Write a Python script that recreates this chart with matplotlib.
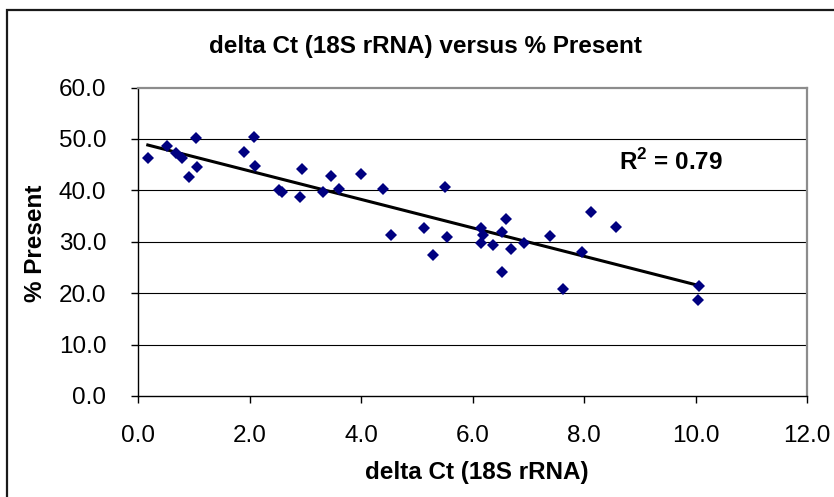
import numpy as np
import matplotlib
matplotlib.use("Agg")
import matplotlib.pyplot as plt
from matplotlib.patches import Rectangle

plt.rcParams["font.family"] = ["Liberation Sans", "DejaVu Sans"]
plt.rcParams["mathtext.fontset"] = "custom"
plt.rcParams["mathtext.rm"] = "Liberation Sans"
plt.rcParams["mathtext.bf"] = "Liberation Sans:bold"

# delta Ct (18S rRNA) vs % Present
delta_ct = [0.17, 0.51, 0.68, 0.78, 0.91, 1.03, 1.05, 1.90, 2.07, 2.09,
            2.52, 2.58, 2.93, 2.90, 3.32, 3.46, 3.60, 4.00, 4.40, 4.54,
            5.50, 5.12, 5.29, 5.54, 6.15, 6.18, 6.15, 6.36, 6.60, 6.52,
            6.69, 6.53, 6.92, 7.38, 7.62, 7.96, 8.13, 8.57, 10.07, 10.04]
pct_present = [46.3, 48.7, 47.3, 46.3, 42.6, 50.1, 44.6, 47.5, 50.4, 44.8,
               40.0, 39.6, 44.1, 38.8, 39.6, 42.8, 40.3, 43.1, 40.2, 31.4,
               40.7, 32.7, 27.4, 30.9, 32.7, 31.4, 29.7, 29.4, 34.4, 31.8,
               28.5, 24.2, 29.7, 31.2, 20.9, 28.0, 35.8, 32.9, 21.3, 18.7]
r2_label = r"R$^{\mathbf{2}}$ = 0.79"

x = np.array(delta_ct)
y = np.array(pct_present)
slope, intercept = np.polyfit(x, y, 1)

fig = plt.figure(figsize=(8.34, 4.97), dpi=100)
fig.patches.append(Rectangle((7 / 834, -0.1), 1.2, 1.1 - 9.5 / 497,
                             transform=fig.transFigure, fill=False,
                             edgecolor="#1a1a1a", linewidth=1.6))

ax = fig.add_axes([138.3 / 834, 101 / 497, (807 - 138.3) / 834, (396 - 87.5) / 497])

ax.set_xlim(0, 12)
ax.set_ylim(0, 60)
ax.set_xticks(np.arange(0, 12.1, 2))
ax.set_yticks(np.arange(0, 60.1, 10))
ax.set_xticklabels([f"{v:.1f}" for v in np.arange(0, 12.1, 2)])
ax.set_yticklabels([f"{v:.1f}" for v in np.arange(0, 60.1, 10)])
ax.tick_params(axis="both", labelsize=17.5, length=5, width=1, direction="out",
               color="black")
ax.tick_params(axis="x", pad=16)
ax.tick_params(axis="y", pad=18)

for v in range(10, 60, 10):
    ax.axhline(v, color="black", linewidth=0.8, zorder=1)

ax.spines["left"].set_color("black")
ax.spines["bottom"].set_color("black")
ax.spines["left"].set_linewidth(1.0)
ax.spines["bottom"].set_linewidth(1.0)
ax.spines["top"].set_color("#8c8c8c")
ax.spines["right"].set_color("#8c8c8c")
ax.spines["top"].set_linewidth(1.6)
ax.spines["right"].set_linewidth(1.6)

ax.plot(x, y, linestyle="none", marker="D", markersize=6,
        markerfacecolor="#000080", markeredgewidth=0, zorder=3)

xl = np.array([x.min(), x.max()])
ax.plot(xl, slope * xl + intercept, color="black", linewidth=2.2, zorder=2)

ax.text(0.797, 0.758, r2_label, transform=ax.transAxes, fontsize=17.5,
        fontweight="bold", ha="center", va="center")

fig.text(425 / 834, 1 - 47 / 497, "delta Ct (18S rRNA) versus % Present",
         fontsize=17.5, fontweight="bold", ha="center", va="center")
fig.text(477 / 834, 1 - 472 / 497, "delta Ct (18S rRNA)",
         fontsize=17.5, fontweight="bold", ha="center", va="center")
fig.text(35 / 834, 1 - 243 / 497, "% Present", rotation=90,
         fontsize=17.5, fontweight="bold", ha="center", va="center")

fig.savefig("out.png", dpi=100)
